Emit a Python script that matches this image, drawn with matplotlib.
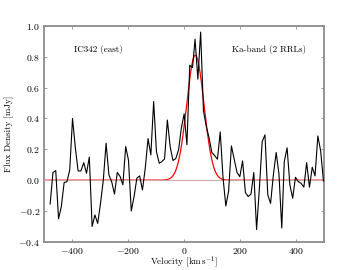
import numpy as np
import matplotlib

matplotlib.use('Agg')
import matplotlib.pyplot as plt

plt.rcParams['font.family'] = 'serif'
plt.rcParams['font.serif'] = ['cmr10']
plt.rcParams['mathtext.fontset'] = 'cm'
plt.rcParams['axes.formatter.use_mathtext'] = True

# channel velocities (km/s) and measured flux density (mJy)
velocity = [
    -479, -469, -459, -449, -439, -429, -419, -409, -399, -389,
    -379, -369, -359, -349, -339, -329, -319, -309, -299, -289,
    -279, -269, -259, -249, -239, -229, -219, -209, -199, -189,
    -179, -169, -159, -149, -139, -129, -119, -109, -99, -89,
    -80, -70, -60, -50, -40, -30, -20, -10, 0, 10,
    20, 30, 39, 49, 59, 69, 79, 89, 99, 109,
    119, 129, 139, 149, 159, 169, 179, 189, 199, 209,
    219, 229, 239, 249, 259, 269, 279, 289, 299, 309,
    319, 329, 339, 349, 358, 368, 378, 388, 398, 408,
    418, 428, 438, 448, 458, 468, 478, 488, 498,
]
flux = [
    -0.154, 0.050, 0.062, -0.250, -0.170, -0.015, -0.010, 0.067, 0.400, 0.210,
    0.060, 0.060, 0.114, 0.045, 0.150, -0.300, -0.225, -0.280, -0.150, 0.000,
    0.240, 0.035, -0.010, -0.090, 0.050, 0.024, -0.030, 0.218, 0.130, -0.200,
    -0.106, 0.013, 0.028, -0.063, 0.078, 0.270, 0.164, 0.510, 0.185, 0.110,
    0.120, 0.138, 0.390, 0.218, 0.128, 0.140, 0.196, 0.337, 0.430, 0.230,
    0.745, 0.730, 0.914, 0.655, 0.960, 0.450, 0.350, 0.276, 0.180, 0.160,
    0.136, 0.313, 0.017, -0.167, -0.070, 0.222, 0.136, 0.050, 0.023, 0.125,
    -0.080, -0.106, -0.090, 0.050, -0.320, -0.052, 0.250, 0.294, -0.095, -0.150,
    0.034, 0.180, 0.040, -0.310, 0.120, 0.210, -0.030, -0.117, 0.019, -0.009,
    -0.020, -0.045, 0.114, -0.045, 0.084, 0.028, 0.287, 0.190, -0.005,
]

# gaussian fit parameters
fit_amp = 0.81
fit_center = 40.0
fit_fwhm = 73.0

vel = np.array(velocity, dtype=float)
vfine = np.linspace(-500, 500, 1001)
sigma = fit_fwhm / (2 * np.sqrt(2 * np.log(2)))
model = fit_amp * np.exp(-0.5 * ((vfine - fit_center) / sigma) ** 2)

spine_grey = '#8c8c8c'

fig = plt.figure(figsize=(3.6, 2.7), dpi=100)
ax = fig.add_axes([0.123, 0.104, 0.777, 0.800])

ax.plot(vfine, model, color='red', lw=0.9, zorder=2)
ax.axhline(0, color='#d4a8a8', lw=0.8, zorder=3)
ax.plot(vel, flux, color='black', lw=0.8, zorder=4)

ax.set_xlim(-500, 500)
ax.set_ylim(-0.4, 1.0)
ax.set_xticks([-400, -200, 0, 200, 400])
ax.set_yticks(np.arange(-0.4, 1.01, 0.2))

for s in ax.spines.values():
    s.set_color(spine_grey)
    s.set_linewidth(1.3)
ax.tick_params(direction='in', top=True, right=True, length=2.5, width=0.6,
               color=spine_grey, labelsize=7, pad=3)

ax.set_xlabel(r'Velocity [km$\,$s$^{-1}$]', fontsize=6.5, labelpad=-1)
ax.set_ylabel('Flux Density [mJy]', fontsize=6.5, labelpad=3)

ax.text(0.105, 0.89, 'IC342 (east)', transform=ax.transAxes, fontsize=6.5,
        va='center', ha='left')
ax.text(0.67, 0.89, 'Ka-band (2 RRLs)', transform=ax.transAxes, fontsize=6.5,
        va='center', ha='left')

fig.savefig('out.png', dpi=100)
